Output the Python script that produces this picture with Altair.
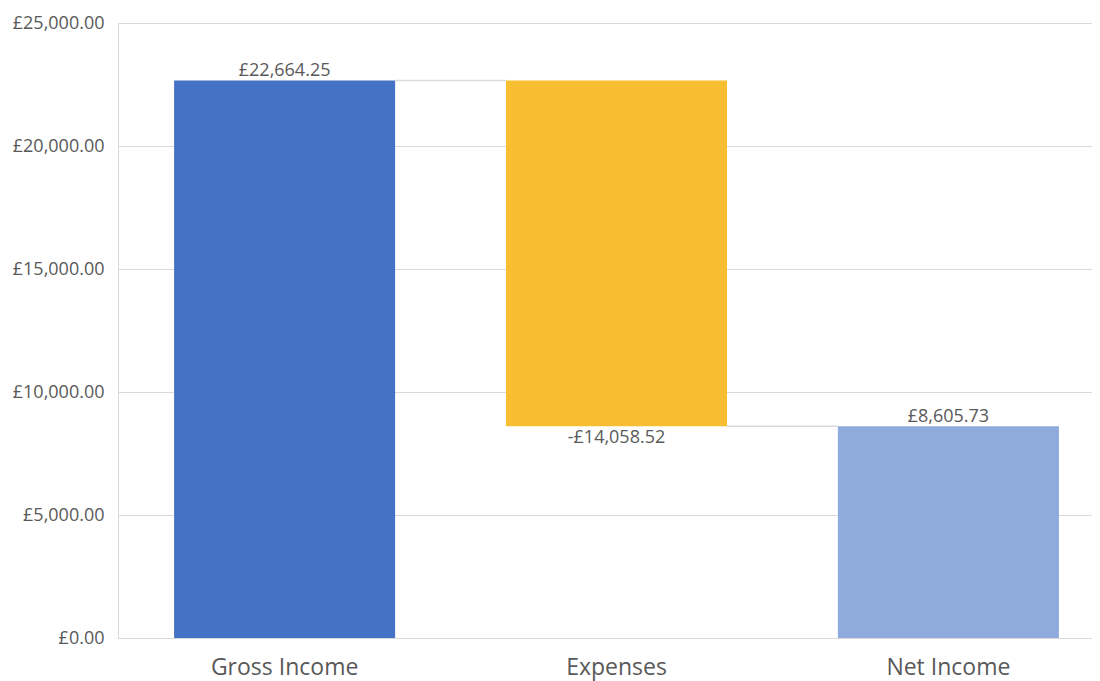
import altair as alt
import pandas as pd

categories = ["Gross Income", "Expenses", "Net Income"]
amounts = [22664.25, -14058.52, 8605.73]
is_total = [False, False, True]
colors = ["#4472C4", "#F7BE31", "#8FAADC"]
y_ticks = [0, 5000, 10000, 15000, 20000, 25000]

rows = []
running = 0.0
for cat, amt, tot, col in zip(categories, amounts, is_total, colors):
    if tot:
        start, end = 0.0, amt
        running = amt
    else:
        start, end = running, running + amt
        running = end
    sign = "-" if amt < 0 else ""
    rows.append({
        "cat": cat, "start": start, "end": end, "color": col,
        "label": f"{sign}£{abs(amt):,.2f}", "neg": amt < 0,
    })
df = pd.DataFrame(rows)

conn = pd.DataFrame([
    {"cat": categories[i], "next": categories[i + 1], "y": df.loc[i, "end"]}
    for i in range(len(categories) - 1)
])

font = "Open Sans"
xscale = alt.Scale(domain=categories, paddingInner=0.334, paddingOuter=0.169, range=[0, 997])
yscale = alt.Scale(domain=[0, 25000], nice=False)

base = alt.Chart(df)

bars = base.mark_bar().encode(
    x=alt.X("cat:N", scale=xscale, sort=categories,
            axis=alt.Axis(title=None, labelAngle=0, ticks=False, domain=False,
                          labelFontSize=23, labelColor="#595959", labelFont=font,
                          labelPadding=18, grid=False)),
    y=alt.Y("start:Q", scale=yscale,
            axis=alt.Axis(title=None, values=y_ticks, ticks=False,
                          labelExpr='"£" + format(datum.value, ",.2f")',
                          labelFontSize=18, labelColor="#595959", labelFont=font,
                          labelPadding=14, grid=True, gridColor="#d9d9d9",
                          domain=True, domainColor="#d9d9d9")),
    y2="end:Q",
    color=alt.Color("color:N", scale=None),
)

connectors = alt.Chart(conn).mark_rule(color="#d9d9d9", strokeWidth=1.5).encode(
    x=alt.X("cat:N", scale=xscale, bandPosition=1),
    x2=alt.X2("next:N", bandPosition=0),
    y=alt.Y("y:Q", scale=yscale),
)

pos_labels = base.transform_filter("!datum.neg").mark_text(
    baseline="bottom", dy=0, fontSize=18, color="#595959", font=font
).encode(
    x=alt.X("cat:N", scale=xscale),
    y=alt.Y("end:Q", scale=yscale),
    text="label:N",
)

neg_labels = base.transform_filter("datum.neg").mark_text(
    baseline="top", dy=3, fontSize=18, color="#595959", font=font
).encode(
    x=alt.X("cat:N", scale=xscale),
    y=alt.Y("end:Q", scale=yscale),
    text="label:N",
)

chart = alt.layer(bars, connectors, pos_labels, neg_labels).properties(
    width=974, height=615,
    autosize=alt.AutoSizeParams(type="none"),
    padding={"left": 110, "top": 15, "right": 0, "bottom": 43},
).configure_view(stroke=None).configure(background="white")

chart.save("out.html", embed_options={"renderer": "svg", "actions": False})
